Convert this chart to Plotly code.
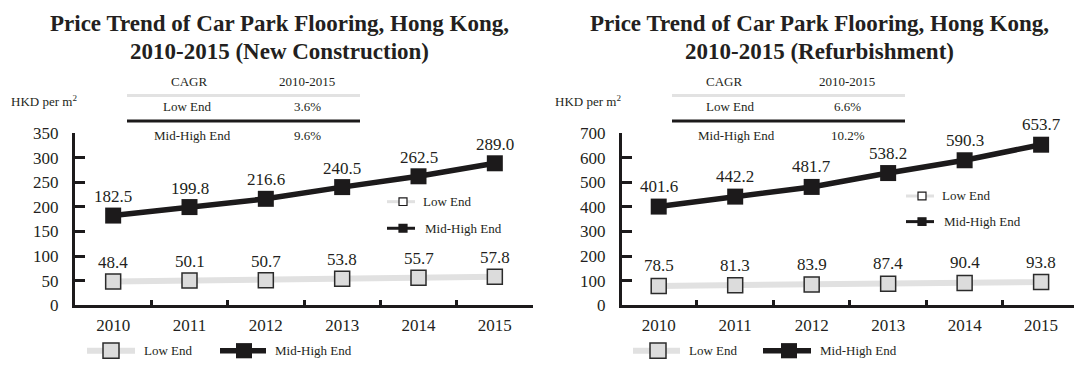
import plotly.graph_objects as go

# ---- data -------------------------------------------------------------
years = ["2010", "2011", "2012", "2013", "2014", "2015"]

new_low = [48.4, 50.1, 50.7, 53.8, 55.7, 57.8]
new_mid = [182.5, 199.8, 216.6, 240.5, 262.5, 289.0]

ref_low = [78.5, 81.3, 83.9, 87.4, 90.4, 93.8]
ref_mid = [401.6, 442.2, 481.7, 538.2, 590.3, 653.7]

cagr_new = {"Low End": "3.6%", "Mid-High End": "9.6%"}
cagr_ref = {"Low End": "6.6%", "Mid-High End": "10.2%"}

titles = [
    ["Price Trend of Car Park Flooring, Hong Kong,", "2010-2015 (New Construction)"],
    ["Price Trend of Car Park Flooring, Hong Kong,", "2010-2015 (Refurbishment)"],
]
y_ranges = [[0, 350], [0, 700]]
y_dticks = [50, 100]

# ---- styling ----------------------------------------------------------
W, H = 1074, 374
SERIF = "Liberation Serif"
INK = "#231f20"
LOW_LINE = "#e1e1e1"
LOW_FILL = "#dcdcdc"
MID = "#1c1a1b"


def px(x):
    return x / W


def py(y):
    return 1 - y / H


def paper_text(x, y, text, size=13, anchor="center", bold=False):
    return dict(x=px(x), y=py(y), xref="paper", yref="paper",
                text=f"<b>{text}</b>" if bold else text, showarrow=False,
                xanchor=anchor, yanchor="middle",
                font=dict(family=SERIF, size=size, color=INK))


fig = go.Figure()

panels = [
    dict(xa="x", ya="y", low=new_low, mid=new_mid, cagr=cagr_new,
         xr=[-0.5, 5.5], yshift=19,
         title_x=279, hkd_x=44,
         tab=(127, 360, 189, 307, 187, 192, 307),
         inner=(387, 203, 231), bottom=(87, 135, 111, 142, 220, 266, 244, 273)),
    dict(xa="x2", ya="y2", low=ref_low, mid=ref_mid, cagr=cagr_ref,
         xr=[-0.48, 5.43], yshift=20,
         title_x=819, hkd_x=588,
         tab=(672, 905, 724, 847, 730, 736, 848),
         inner=(906, 197, 224), bottom=(633, 680, 658, 687, 763, 811, 789, 818)),
]

shapes = []
annotations = []

for i, p in enumerate(panels):
    # series
    fig.add_trace(go.Scatter(
        x=years, y=p["low"], name="Low End", mode="lines+markers",
        xaxis=p["xa"], yaxis=p["ya"], showlegend=False,
        line=dict(color=LOW_LINE, width=6),
        marker=dict(symbol="square", size=15, color=LOW_FILL,
                    line=dict(color="#2b2b2b", width=1.5)),
        cliponaxis=False,
    ))
    fig.add_trace(go.Scatter(
        x=years, y=p["mid"], name="Mid-High End", mode="lines+markers",
        xaxis=p["xa"], yaxis=p["ya"], showlegend=False,
        line=dict(color=MID, width=5.5),
        marker=dict(symbol="square", size=16, color=MID),
        cliponaxis=False,
    ))

    # value labels (category index on the x axis)
    for series in (p["low"], p["mid"]):
        for k, v in enumerate(series):
            annotations.append(dict(
                x=k, y=v, xref=p["xa"], yref=p["ya"], text=f"{v:.1f}",
                showarrow=False, yshift=p["yshift"], xanchor="center", yanchor="middle",
                font=dict(family=SERIF, size=17, color=INK)))

    # titles
    for j, line in enumerate(titles[i]):
        annotations.append(paper_text(p["title_x"], 15 + 29.5 * j, line, size=23, bold=True))

    # unit label
    annotations.append(paper_text(p["hkd_x"], 97, "HKD per m<sup>2</sup>"))

    # CAGR table
    x0, x1, c_hdr, c_val, c_low, c_mid, c_val2 = p["tab"]
    rows = [(c_hdr, "CAGR", c_val, "2010-2015", 76),
            (c_low, "Low End", c_val, p["cagr"]["Low End"], 103),
            (c_mid, "Mid-High End", c_val2, p["cagr"]["Mid-High End"], 133)]
    for cx, label, vx, val, ry in rows:
        annotations.append(paper_text(cx, ry, label))
        annotations.append(paper_text(vx, ry, val))
    shapes.append(dict(type="line", xref="paper", yref="paper",
                       x0=px(x0), x1=px(x1), y0=py(91), y1=py(91),
                       line=dict(color="#e2e2e2", width=3)))
    shapes.append(dict(type="line", xref="paper", yref="paper",
                       x0=px(x0), x1=px(x1), y0=py(118), y1=py(118),
                       line=dict(color=MID, width=3)))

    # inner legend
    lx, ly_low, ly_mid = p["inner"]
    for ly, lcol, fill, txt, tdx in ((ly_low, LOW_LINE, "white", "Low End", 34),
                                     (ly_mid, MID, MID, "Mid-High End", 36)):
        shapes.append(dict(type="line", xref="paper", yref="paper",
                           x0=px(lx), x1=px(lx + 28), y0=py(ly), y1=py(ly),
                           line=dict(color=lcol, width=3)))
        shapes.append(dict(type="rect", xref="paper", yref="paper",
                           x0=px(lx + 12), x1=px(lx + 20), y0=py(ly - 4), y1=py(ly + 4),
                           fillcolor=fill, line=dict(color=MID, width=1.2)))
        annotations.append(paper_text(lx + tdx, ly, txt, anchor="left"))

    # bottom legend
    a0, a1, am, at, b0, b1, bm, bt = p["bottom"]
    ly = 360
    shapes.append(dict(type="line", xref="paper", yref="paper",
                       x0=px(a0), x1=px(a1), y0=py(ly), y1=py(ly),
                       line=dict(color=LOW_LINE, width=6)))
    shapes.append(dict(type="rect", xref="paper", yref="paper",
                       x0=px(am - 8), x1=px(am + 8), y0=py(ly - 8), y1=py(ly + 8),
                       fillcolor=LOW_FILL, line=dict(color="#2b2b2b", width=1.5)))
    annotations.append(paper_text(at, ly, "Low End", anchor="left"))
    shapes.append(dict(type="line", xref="paper", yref="paper",
                       x0=px(b0), x1=px(b1), y0=py(ly), y1=py(ly),
                       line=dict(color=MID, width=5.5)))
    shapes.append(dict(type="rect", xref="paper", yref="paper",
                       x0=px(bm - 8), x1=px(bm + 8), y0=py(ly - 8), y1=py(ly + 8),
                       fillcolor=MID, line=dict(color=MID, width=0)))
    annotations.append(paper_text(bt, ly, "Mid-High End", anchor="left"))

xaxis_common = dict(
    type="category", tickson="boundaries", ticks="inside", ticklen=5, tickwidth=3,
    tickcolor=MID, showline=True, linecolor=MID, linewidth=3, showgrid=False,
    zeroline=False, tickfont=dict(family=SERIF, size=17, color=INK),
    ticklabelstandoff=2,
)
yaxis_common = dict(
    ticks="inside", ticklen=10, tickwidth=3, tickcolor=MID, showline=True,
    linecolor=MID, linewidth=3, showgrid=False, zeroline=False,
    tickfont=dict(family=SERIF, size=17, color=INK), ticklabelstandoff=10,
)

fig.update_layout(
    width=W, height=H, autosize=False,
    margin=dict(l=0, r=0, t=0, b=0),
    paper_bgcolor="white", plot_bgcolor="white",
    showlegend=False,
    xaxis=dict(domain=[px(75), px(533)], range=panels[0]["xr"], anchor="y", **xaxis_common),
    yaxis=dict(domain=[py(312), py(131)], range=y_ranges[0], dtick=y_dticks[0],
               anchor="x", **yaxis_common),
    xaxis2=dict(domain=[px(622), 1.0], range=panels[1]["xr"], anchor="y2", **xaxis_common),
    yaxis2=dict(domain=[py(312), py(131)], range=y_ranges[1], dtick=y_dticks[1],
                anchor="x2", **yaxis_common),
    shapes=shapes,
    annotations=annotations,
)

fig.write_html("out.html")
